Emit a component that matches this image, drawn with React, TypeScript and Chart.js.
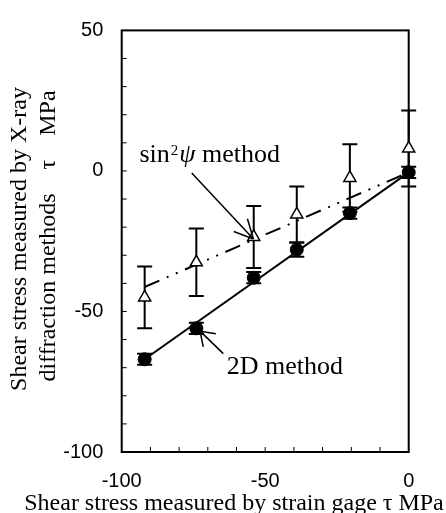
import React, { useEffect, useRef } from 'react';
import { Chart, registerables } from 'chart.js';

Chart.register(...registerables);

// ---- data ----
const xValues = [-92, -74, -54, -39, -20.5, 0];
const twoDValues = [-67, -56, -38, -28, -15, -0.5];
const twoDErrors = [2, 2, 2, 2.5, 2, 2];
const sinValues = [-45, -32.5, -23.5, -15.5, -2.5, 8];
const sinErrors = [11, 12, 11, 10, 12, 13.5];
const fitX = [-92, 0];
const twoDFit = [-67, -0.5];
const sinFit = [-41.3, -0.5];
const xTickLabels = [-100, -50, 0];
const yTickLabels = [-100, -50, 0, 50];
const xTitle = 'Shear stress measured by strain gage \u03c4 MPa';
const yTitleLines = ['Shear stress measured by X-ray', 'diffraction methods    \u03c4    MPa'];

// annotation anchors (data coordinates)
const sinArrow = { from: [-75.6, -0.7], to: [-54.1, -24.2] };
const twoDArrow = { from: [-64.6, -65], to: [-72.7, -57] };
const sinLabelAt = [-93.8, 3.1];
const twoDLabelAt = [-63.4, -72.3];

const SERIF = '"Liberation Serif", "Times New Roman", serif';
const SANS = '"Liberation Sans", Arial, sans-serif';

function drawArrow(ctx: CanvasRenderingContext2D, x1: number, y1: number, x2: number, y2: number, ang: number, len: number) {
  const a = Math.atan2(y1 - y2, x1 - x2);
  ctx.beginPath();
  ctx.moveTo(x1, y1);
  ctx.lineTo(x2, y2);
  ctx.moveTo(x2, y2);
  ctx.lineTo(x2 + len * Math.cos(a + ang), y2 + len * Math.sin(a + ang));
  ctx.moveTo(x2, y2);
  ctx.lineTo(x2 + len * Math.cos(a - ang), y2 + len * Math.sin(a - ang));
  ctx.stroke();
}

const customPlugin = {
  id: 'customDecor',
  beforeDatasetsDraw(chart: any) {
    const { ctx, chartArea, scales } = chart;
    const xs = scales.x;
    const ys = scales.y;
    ctx.save();
    ctx.strokeStyle = '#000';
    // inward ticks
    ctx.lineWidth = 1;
    ctx.beginPath();
    ys.ticks.forEach((t: any) => {
      const py = ys.getPixelForValue(t.value);
      ctx.moveTo(chartArea.left, py);
      ctx.lineTo(chartArea.left + 5, py);
    });
    xs.ticks.forEach((t: any) => {
      const px = xs.getPixelForValue(t.value);
      ctx.moveTo(px, chartArea.bottom);
      ctx.lineTo(px, chartArea.bottom - 5);
    });
    ctx.stroke();
    // box
    ctx.lineWidth = 2;
    ctx.strokeRect(chartArea.left, chartArea.top, chartArea.right - chartArea.left, chartArea.bottom - chartArea.top);
    // error bars
    const cap = 7.5;
    const bar = (xv: number, yv: number, e: number) => {
      const px = xs.getPixelForValue(xv);
      const top = ys.getPixelForValue(yv + e);
      const bot = ys.getPixelForValue(yv - e);
      ctx.beginPath();
      ctx.moveTo(px, top);
      ctx.lineTo(px, bot);
      ctx.moveTo(px - cap, top);
      ctx.lineTo(px + cap, top);
      ctx.moveTo(px - cap, bot);
      ctx.lineTo(px + cap, bot);
      ctx.stroke();
    };
    xValues.forEach((xv, i) => bar(xv, sinValues[i], sinErrors[i]));
    xValues.forEach((xv, i) => bar(xv, twoDValues[i], twoDErrors[i]));
    ctx.restore();
  },
  afterDatasetsDraw(chart: any) {
    const { ctx, scales } = chart;
    const xs = scales.x;
    const ys = scales.y;
    const P = (p: number[]) => [xs.getPixelForValue(p[0]), ys.getPixelForValue(p[1])];
    ctx.save();
    ctx.strokeStyle = '#000';
    ctx.fillStyle = '#000';
    ctx.lineWidth = 1.5;
    const a1 = P(sinArrow.from), b1 = P(sinArrow.to);
    drawArrow(ctx, a1[0], a1[1], b1[0], b1[1], 0.46, 21);
    const a2 = P(twoDArrow.from), b2 = P(twoDArrow.to);
    drawArrow(ctx, a2[0], a2[1], b2[0], b2[1], 0.6, 16);

    // sin^2 psi method label
    ctx.textBaseline = 'alphabetic';
    ctx.textAlign = 'left';
    const s = P(sinLabelAt);
    let cx = s[0];
    ctx.font = `26px ${SERIF}`;
    ctx.fillText('sin', cx, s[1]);
    cx += ctx.measureText('sin').width;
    ctx.font = `15px ${SERIF}`;
    ctx.fillText('2', cx + 1, s[1] - 7);
    cx += ctx.measureText('2').width + 2;
    ctx.font = `italic 26px ${SERIF}`;
    ctx.fillText('\u03c8', cx, s[1]);
    cx += ctx.measureText('\u03c8').width;
    ctx.font = `26px ${SERIF}`;
    ctx.fillText(' method', cx, s[1]);

    const t = P(twoDLabelAt);
    ctx.fillText('2D method', t[0], t[1]);

    // axis titles
    ctx.font = `24px ${SERIF}`;
    ctx.textAlign = 'center';
    ctx.textBaseline = 'alphabetic';
    ctx.fillText(xTitle, 234, 510);

    ctx.textBaseline = 'middle';
    const centers = [[20, 239], [49, 236]];
    yTitleLines.forEach((line, i) => {
      ctx.save();
      ctx.translate(centers[i][0], centers[i][1]);
      ctx.rotate(-Math.PI / 2);
      ctx.fillText(line, 0, 0);
      ctx.restore();
    });
    ctx.restore();
  },
};

export default function App() {
  const ref = useRef<HTMLCanvasElement | null>(null);
  useEffect(() => {
    document.body.style.margin = '0';
    const canvas = ref.current;
    if (!canvas) return;
    const chart = new Chart(canvas, {
      type: 'scatter',
      data: {
        datasets: [
          {
            label: 'sin2psi method',
            data: xValues.map((x, i) => ({ x, y: sinValues[i] })),
            pointStyle: 'triangle',
            pointRadius: 7,
            pointBackgroundColor: '#fff',
            pointBorderColor: '#000',
            pointBorderWidth: 1.5,
            showLine: false,
            clip: false,
          } as any,
          {
            label: '2D method',
            data: xValues.map((x, i) => ({ x, y: twoDValues[i] })),
            pointStyle: 'circle',
            pointRadius: 6.5,
            pointBackgroundColor: '#000',
            pointBorderColor: '#000',
            pointBorderWidth: 1,
            showLine: false,
            clip: false,
          } as any,
          {
            label: 'sin2psi fit',
            data: fitX.map((x, i) => ({ x, y: sinFit[i] })),
            showLine: true,
            borderColor: '#000',
            borderWidth: 2,
            borderDash: [16, 8, 2, 8, 2, 8],
            pointRadius: 0,
            clip: false,
          } as any,
          {
            label: '2D fit',
            data: fitX.map((x, i) => ({ x, y: twoDFit[i] })),
            showLine: true,
            borderColor: '#000',
            borderWidth: 2,
            pointRadius: 0,
            clip: false,
          } as any,
        ],
      },
      options: {
        animation: false,
        responsive: false,
        events: [],
        layout: { padding: { left: 0, top: 26, right: 37.3, bottom: 0 } },
        plugins: { legend: { display: false }, tooltip: { enabled: false } },
        scales: {
          x: {
            type: 'linear',
            min: -100,
            max: 0,
            grid: { display: false, drawTicks: false },
            border: { display: false },
            afterFit: (scale: any) => { scale.height = 61; },
            ticks: {
              stepSize: 10,
              autoSkip: false,
              maxRotation: 0,
              padding: 17,
              color: '#000',
              font: { family: SANS, size: 20 },
              callback: (v: any) => (xTickLabels.includes(Number(v)) ? String(v) : ''),
            },
          },
          y: {
            type: 'linear',
            min: -100,
            max: 50,
            grid: { display: false, drawTicks: false },
            border: { display: false },
            afterFit: (scale: any) => { scale.width = 121.7; },
            ticks: {
              stepSize: 10,
              autoSkip: false,
              padding: 18.4,
              color: '#000',
              font: { family: SANS, size: 20 },
              callback: (v: any) => (yTickLabels.includes(Number(v)) ? String(v) : ''),
            },
          },
        },
      } as any,
      plugins: [customPlugin],
    });
    return () => chart.destroy();
  }, []);
  return (
    <div style={{ width: 446, height: 513 }}>
      <canvas ref={ref} width={446} height={513} style={{ display: 'block' }} />
    </div>
  );
}
